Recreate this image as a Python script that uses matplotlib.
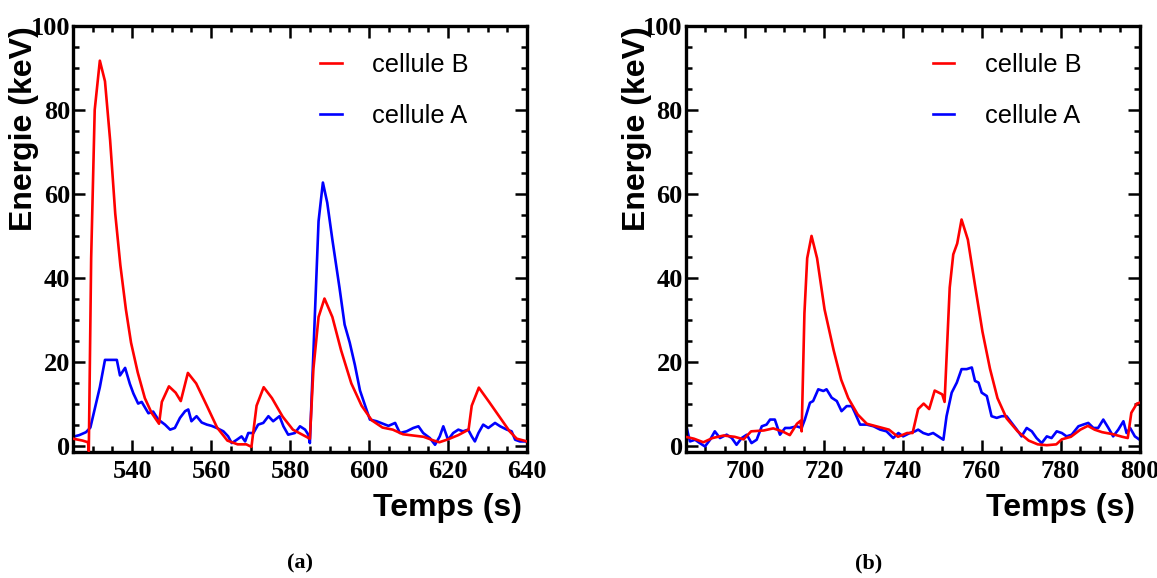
import numpy as np
import matplotlib
matplotlib.use('Agg')
import matplotlib.pyplot as plt
from matplotlib.ticker import MultipleLocator

# panneau (a) : cellule B (rouge) et cellule A (bleu)
t_a_B = [525, 527.4, 528.8, 529.0, 529.6, 530.5, 531.8, 533.1, 534.4, 535.7, 537.0, 538.4,
         539.7, 541.4, 543.2, 544.9, 546.8, 547.5, 549.3, 551.0, 552.3, 554.1, 556.2, 558.9,
         561.5, 564.1, 566.7, 568.9, 570.2, 571.5, 573.3, 575.4, 578.1, 580.7, 583.3, 585.0,
         585.9, 587.2, 588.7, 590.7, 592.9, 595.5, 598.1, 600.7, 603.4, 606.0, 608.6, 611.2,
         613.8, 616.4, 617.8, 620.0, 622.6, 625.2, 626.0, 627.8, 630.4, 633.0, 635.6, 637.4, 640]
E_a_B = [1.75, 1.3, 0.9, -1.2, 44.7, 80.0, 91.7, 86.8, 72.8, 55.3, 43.0, 32.5,
         24.6, 17.5, 11.4, 7.9, 5.3, 10.5, 14.2, 12.7, 10.7, 17.4, 14.9, 9.6,
         4.4, 1.3, 0.4, 0.4, -0.2, 9.6, 14.0, 11.4, 7.0, 3.9, 2.6, 1.75,
         18.4, 30.7, 35.1, 30.7, 22.8, 14.9, 9.6, 6.1, 4.4, 3.9, 2.8, 2.5,
         2.2, 1.3, 0.9, 1.6, 2.6, 3.9, 9.6, 13.9, 10.5, 7.0, 3.5, 1.75, 1.1]

t_a_A = [525, 526.6, 528.3, 529.4, 530.5, 531.8, 533.1, 536.1, 536.9, 538.2, 539.4, 540.3,
         541.5, 542.4, 544.1, 545.3, 546.6, 548.3, 549.6, 550.8, 552.1, 553.4, 554.2, 555.0,
         556.3, 557.6, 558.9, 560.1, 561.4, 563.1, 564.3, 565.2, 566.5, 567.7, 568.6, 569.4,
         570.7, 571.9, 573.2, 574.5, 575.7, 577.3, 578.3, 579.5, 581.2, 582.5, 583.8, 584.6,
         585.0, 586.1, 587.2, 588.3, 589.4, 590.7, 592.5, 593.8, 595.1, 596.4, 597.7, 599.0,
         600.2, 601.9, 604.9, 606.6, 607.8, 609.5, 611.2, 612.5, 613.7, 615.4, 616.7, 617.9,
         618.8, 620.0, 621.3, 622.6, 623.8, 625.1, 626.0, 626.8, 627.7, 628.9, 630.2, 631.9,
         633.2, 634.9, 636.1, 637.0, 638.2, 639.5, 640]
E_a_A = [2.2, 2.6, 3.3, 4.4, 8.8, 14.0, 20.5, 20.5, 16.8, 18.6, 14.8, 12.5,
         10.1, 10.5, 7.8, 8.2, 6.3, 5.1, 3.9, 4.3, 6.7, 8.3, 8.7, 5.9,
         7.1, 5.6, 5.1, 4.8, 4.3, 3.5, 2.3, 0.7, 1.5, 2.3, 1.1, 3.1,
         3.1, 5.1, 5.5, 7.1, 5.9, 7.1, 4.7, 2.7, 3.1, 4.7, 3.9, 2.7,
         0.7, 27.2, 53.5, 62.7, 57.9, 49.1, 37.7, 28.9, 24.6, 19.3, 13.2, 9.6,
         6.3, 5.9, 4.8, 5.5, 3.1, 3.5, 4.3, 4.7, 3.1, 1.9, 0.3, 2.3,
         4.7, 1.5, 3.1, 3.9, 3.5, 3.9, 2.3, 1.1, 3.1, 5.1, 4.3, 5.5,
         4.7, 3.9, 3.5, 1.5, 1.1, 1.1, 1.1]

# panneau (b)
t_b_B = [685, 687.1, 689.5, 691.8, 694.6, 697.4, 699.7, 701.6, 704.8, 707.2, 709.5, 711.4,
         713.2, 714.1, 714.4, 715.1, 715.8, 716.9, 718.3, 720.2, 722.5, 724.4, 726.2, 728.6,
         730.9, 733.7, 736.5, 738.8, 741.1, 742.5, 743.9, 745.3, 746.7, 748.1, 750.0, 750.6,
         751.9, 752.8, 753.8, 754.9, 756.5, 758.4, 760.2, 762.1, 764.0, 766.3, 769.1, 771.9,
         774.2, 776.5, 778.9, 780.3, 782.6, 785.0, 786.9, 788.6, 790.5, 793.3, 795.6, 797.0,
         797.9, 799.3, 800]
E_b_B = [2.2, 1.75, 0.9, 1.9, 2.5, 2.2, 1.6, 3.5, 3.7, 4.2, 3.5, 2.6,
         5.3, 6.0, 3.5, 31.6, 44.7, 50.0, 44.7, 32.5, 22.8, 15.8, 11.4, 7.5,
         5.3, 4.6, 3.9, 2.2, 3.1, 3.1, 8.8, 10.1, 8.8, 13.2, 12.3, 10.5,
         37.7, 45.6, 48.2, 53.9, 49.1, 37.7, 27.2, 18.4, 11.4, 6.6, 3.5, 1.3,
         0.4, 0.2, 0.4, 1.6, 2.2, 3.9, 4.8, 3.9, 3.3, 2.8, 2.2, 1.9,
         7.9, 10.1, 10.3]

t_b_A = [685, 686.1, 687.4, 688.6, 689.9, 691.2, 692.4, 693.7, 695.4, 696.7, 697.9, 699.2,
         700.5, 701.7, 703.0, 704.3, 705.5, 706.4, 707.6, 708.9, 710.2, 711.4, 713.1, 714.4,
         715.2, 716.5, 717.3, 718.6, 719.9, 720.7, 722.0, 723.3, 724.5, 725.8, 727.1, 727.9,
         729.2, 730.9, 732.6, 734.3, 735.9, 737.6, 738.9, 740.1, 741.8, 743.1, 743.9, 745.2,
         746.5, 747.7, 749.0, 750.3, 751.1, 752.4, 753.7, 754.9, 756.2, 757.5, 758.3, 759.2,
         760.0, 761.3, 762.5, 763.8, 765.1, 766.3, 767.6, 768.9, 770.1, 771.4, 772.7, 773.9,
         775.2, 776.5, 777.7, 779.0, 780.3, 781.5, 782.8, 784.5, 785.7, 787.0, 788.3, 789.5,
         790.8, 792.1, 793.3, 794.6, 795.9, 796.7, 797.6, 798.8, 800]
E_b_A = [5.4, 1.1, 1.5, 0.7, -0.1, 1.5, 3.5, 1.9, 2.7, 1.9, 0.3, 1.9,
         2.7, 0.7, 1.5, 4.7, 5.1, 6.3, 6.3, 2.7, 4.3, 4.3, 4.7, 4.3,
         6.3, 10.3, 10.7, 13.5, 13.1, 13.5, 11.5, 10.7, 8.3, 9.5, 9.5, 7.9,
         5.1, 5.1, 4.7, 3.9, 3.5, 1.9, 3.1, 2.3, 3.1, 3.5, 3.9, 3.1,
         2.7, 3.1, 2.3, 1.5, 7.1, 12.7, 15.1, 18.3, 18.3, 18.7, 15.5, 15.1,
         12.7, 11.9, 7.1, 6.7, 7.1, 7.1, 5.5, 3.9, 2.3, 4.3, 3.5, 1.9,
         0.7, 2.3, 1.9, 3.5, 3.1, 2.3, 2.7, 4.7, 5.1, 5.5, 4.3, 4.3,
         6.3, 4.3, 2.3, 3.9, 5.9, 3.1, 4.3, 2.3, 1.5]

panneaux = [
    dict(left=73, xlim=(525, 640), tB=t_a_B, EB=E_a_B, tA=t_a_A, EA=E_a_A, tag='(a)', tagx=300),
    dict(left=685.6, xlim=(685, 800), tB=t_b_B, EB=E_b_B, tA=t_b_A, EA=E_b_A, tag='(b)', tagx=869),
]

W, H = 1157, 578
fig = plt.figure(figsize=(W / 100, H / 100), dpi=100)

serif = 'Liberation Serif'
sans = 'Liberation Sans'

for p in panneaux:
    ax = fig.add_axes([p['left'] / W, 1 - 451.5 / H, 454 / W, 425.7 / H])
    ax.plot(p['tB'], p['EB'], color='#ff0000', lw=1.9, label='cellule B', zorder=3)
    ax.plot(p['tA'], p['EA'], color='#0000ff', lw=1.9, label='cellule A', zorder=2)
    ax.set_xlim(*p['xlim'])
    ax.set_ylim(-1.3, 100)

    ax.xaxis.set_major_locator(MultipleLocator(20))
    ax.xaxis.set_minor_locator(MultipleLocator(5))
    ax.yaxis.set_major_locator(MultipleLocator(20))
    ax.yaxis.set_minor_locator(MultipleLocator(5))
    ax.tick_params(which='both', direction='in', top=True, right=True, width=1.8)
    ax.tick_params(which='major', length=8.5)
    ax.tick_params(which='minor', length=4.3)
    ax.tick_params(axis='x', pad=6)
    ax.tick_params(axis='y', pad=2)
    for s in ax.spines.values():
        s.set_linewidth(2.4)
    for lab in ax.get_xticklabels() + ax.get_yticklabels():
        lab.set_fontfamily(serif)
        lab.set_fontweight('bold')
        lab.set_fontsize(19)

    # légende sans cadre
    ax.legend(loc='upper left', bbox_to_anchor=(0.544, 0.936), frameon=False,
              borderpad=0, borderaxespad=0, handlelength=0.85, handletextpad=1.2,
              labelspacing=1.07, prop={'family': sans, 'size': 18.3})

    x0 = p['left']
    fig.text((x0 - 49) / W, 1 - 129 / H, 'Energie (keV)', rotation=90, ha='center', va='center',
             family=sans, weight='bold', size=23)
    fig.text((x0 + 449) / W, 1 - 508 / H, 'Temps (s)', ha='right', va='center',
             family=sans, weight='bold', size=23)
    fig.text(p['tagx'] / W, 1 - 563 / H, p['tag'], ha='center', va='center',
             family=serif, weight='bold', size=16)

fig.savefig('out.png', dpi=100)
